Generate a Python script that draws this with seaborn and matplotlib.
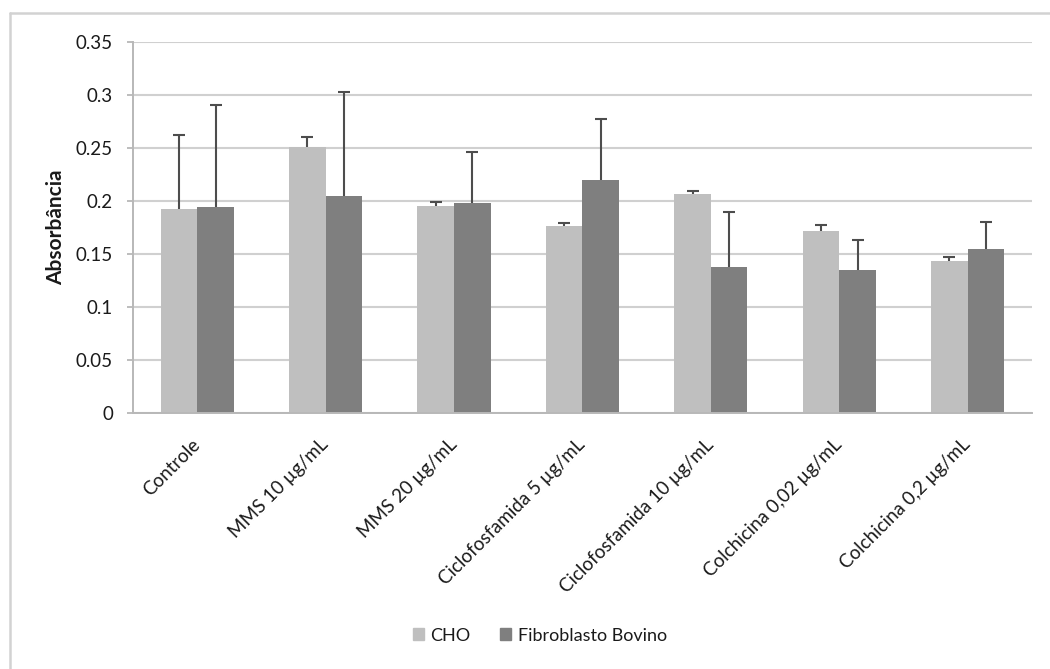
import numpy as np
import pandas as pd
import matplotlib
matplotlib.use("Agg")
import matplotlib.pyplot as plt
import matplotlib.patches as mpatches
import matplotlib.lines as mlines
import seaborn as sns

# data
categories = ["Controle", "MMS 10 µg/mL", "MMS 20 µg/mL", "Ciclofosfamida 5 µg/mL",
              "Ciclofosfamida 10 µg/mL", "Colchicina 0,02 µg/mL", "Colchicina 0,2 µg/mL"]
series = ["CHO", "Fibroblasto Bovino"]
cho_vals = [0.1925, 0.2506, 0.1956, 0.1764, 0.2063, 0.1720, 0.1437]
cho_err = [0.0695, 0.0094, 0.0031, 0.0032, 0.0031, 0.0050, 0.0033]
fib_vals = [0.1940, 0.2050, 0.1984, 0.2198, 0.1380, 0.1352, 0.1544]
fib_err = [0.0970, 0.0975, 0.0476, 0.0576, 0.0520, 0.0278, 0.0261]

colours = {"CHO": "#bfbfbf", "Fibroblasto Bovino": "#7f7f7f"}

df = pd.DataFrame({
    "Tratamento": categories * 2,
    "Serie": [series[0]] * len(categories) + [series[1]] * len(categories),
    "Absorbancia": cho_vals + fib_vals,
})

sns.set_theme(style="white")
plt.rcParams['font.family'] = ['Lato', 'DejaVu Sans']

fig = plt.figure(figsize=(10.5, 6.69), dpi=100)
ax = fig.add_axes([0.1267, 0.383, 0.856, 0.554])

sns.barplot(data=df, x="Tratamento", y="Absorbancia", hue="Serie",
            palette=colours, errorbar=None, width=0.57, saturation=1,
            linewidth=0, ax=ax, legend=False)

# upper-only error bars at the centre of each bar
errs = {"CHO": cho_err, "Fibroblasto Bovino": fib_err}
for cont, name in zip(ax.containers, series):
    xs = [p.get_x() + p.get_width() / 2 for p in cont.patches]
    ys = [p.get_height() for p in cont.patches]
    eb = ax.errorbar(xs, ys, yerr=[np.zeros(len(xs)), errs[name]], fmt="none",
                     ecolor="#4d4d4d", elinewidth=1.5, capsize=4.6, capthick=1.5, zorder=3)
    eb[1][0].set_visible(False)   # drop the lower cap

ax.set_ylim(0, 0.35)
ax.set_xlim(-0.5, len(categories) - 0.5)
ax.set_yticks(np.arange(0, 0.351, 0.05))
ax.set_yticklabels(["0", "0.05", "0.1", "0.15", "0.2", "0.25", "0.3", "0.35"],
                   fontsize=13.5, color="#1a1a1a")
ax.yaxis.grid(True, color="#d0d0d0", linewidth=1.5)
ax.set_axisbelow(True)

# category labels, ticks on the category boundaries
ax.set_xticks(range(len(categories)))
ax.set_xticklabels(categories, rotation=45, ha="right", va="center",
                   rotation_mode="anchor", fontsize=13.5, color="#1a1a1a")
ax.set_xticks(np.arange(-0.5, len(categories), 1.0), minor=True)
ax.tick_params(axis="x", which="major", length=0, pad=21)
ax.tick_params(axis="x", which="minor", length=5, width=1.3, color="#b8b8b8", direction="out")
ax.tick_params(axis="y", length=4.5, width=1.3, color="#b8b8b8", direction="out",
               left=True, pad=10)

for side in ["top", "right"]:
    ax.spines[side].set_visible(False)
for side in ["left", "bottom"]:
    ax.spines[side].set_color("#b8b8b8")
    ax.spines[side].set_linewidth(1.4)

ax.set_xlabel("")
ax.set_ylabel("Absorbância", fontsize=15, fontweight="bold", labelpad=7,
              color="#1a1a1a")

handles = [mpatches.Patch(color=colours[s], label=s) for s in series]
fig.legend(handles=handles, loc="center", bbox_to_anchor=(0.514, 0.05), ncol=2,
           frameon=False, fontsize=13, handlelength=0.65, handleheight=0.65,
           handletextpad=0.35, columnspacing=1.6, labelcolor="#1a1a1a")

# chart area border: only its top and left edges fall inside the picture
fig.add_artist(mlines.Line2D([0.0095, 1.0], [0.981, 0.981], transform=fig.transFigure,
                             color="#d2d2d2", linewidth=1.8))
fig.add_artist(mlines.Line2D([0.0095, 0.0095], [0.0, 0.981], transform=fig.transFigure,
                             color="#d2d2d2", linewidth=1.8))

fig.savefig("out.png", dpi=100)
